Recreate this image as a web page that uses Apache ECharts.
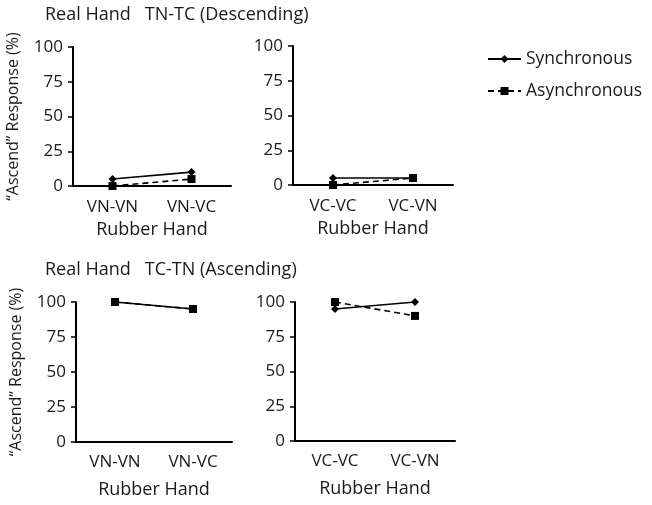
<!DOCTYPE html>
<html><head><meta charset="utf-8">
<script src="https://cdn.jsdelivr.net/npm/echarts@6/dist/echarts.min.js"></script>
<style>html,body{margin:0;padding:0;background:#fff}#c{width:652px;height:505px}</style>
</head><body><div id="c"></div>
<script>
const catsLeft = ['VN-VN', 'VN-VC'];
const catsRight = ['VC-VC', 'VC-VN'];
const yTicks = [0, 25, 50, 75, 100];
const topLeftSync = [5, 10];
const topLeftAsync = [0, 5];
const topRightSync = [5, 5];
const topRightAsync = [0, 5];
const botLeftSync = [100, 95];
const botLeftAsync = [100, 95];
const botRightSync = [95, 100];
const botRightAsync = [100, 90];
const titleTop = 'Real Hand   TN-TC (Descending)';
const titleBot = 'Real Hand   TC-TN (Ascending)';
const xName = 'Rubber Hand';
const yName = '\u201CAscend\u201D Response (%)';

const FONT = 'Open Sans';
const TXT = '#1a1a1a';
const chart = echarts.init(document.getElementById('c'));
const grids = [
  {left: 73, top: 47, width: 158, height: 139},
  {left: 293, top: 46, width: 160, height: 139},
  {left: 76, top: 302, width: 156, height: 140},
  {left: 295, top: 302, width: 160, height: 139}
];
const cats = [catsLeft, catsRight, catsLeft, catsRight];
const xAxes = cats.map((c, i) => ({
  type: 'category', gridIndex: i, data: c, boundaryGap: true,
  axisLine: {lineStyle: {color: '#000', width: 2}},
  axisTick: {show: false},
  axisLabel: {color: TXT, fontFamily: FONT, fontSize: 17, margin: i < 2 ? 13 : 12},
  name: xName, nameLocation: 'middle', nameGap: i < 2 ? 35 : 39,
  nameTextStyle: {color: TXT, fontFamily: FONT, fontSize: 18}
}));
const yAxes = grids.map((g, i) => ({
  type: 'value', gridIndex: i, min: 0, max: 100, interval: 25,
  axisLine: {show: true, lineStyle: {color: '#000', width: 2}},
  axisTick: {show: true, length: 5, lineStyle: {color: '#000', width: 1.5}},
  splitLine: {show: false},
  axisLabel: {color: TXT, fontFamily: FONT, fontSize: 17, margin: 10},
  name: (i % 2 === 0) ? yName : '', nameLocation: 'middle', nameGap: 52, nameRotate: 90,
  nameTextStyle: {color: TXT, fontFamily: FONT, fontSize: 16}
}));
function sync(idx, data) {
  return {name: 'Synchronous', type: 'line', xAxisIndex: idx, yAxisIndex: idx, data: data,
    symbol: 'diamond', symbolSize: 8, itemStyle: {color: '#000'},
    lineStyle: {color: '#000', width: 1.6, type: 'solid'}, z: 3};
}
function asyn(idx, data) {
  return {name: 'Asynchronous', type: 'line', xAxisIndex: idx, yAxisIndex: idx, data: data,
    symbol: 'rect', symbolSize: 8, itemStyle: {color: '#000'},
    lineStyle: {color: '#000', width: 1.6, type: [6, 4]}, z: 4};
}
chart.setOption({
  animation: false,
  textStyle: {fontFamily: FONT},
  title: [
    {text: titleTop, left: 40, top: 1, textStyle: {fontFamily: FONT, fontSize: 18, fontWeight: 'normal', color: TXT}},
    {text: titleBot, left: 40, top: 256, textStyle: {fontFamily: FONT, fontSize: 18, fontWeight: 'normal', color: TXT}}
  ],
  legend: {
    orient: 'vertical', left: 482, top: 45, itemWidth: 33, itemHeight: 10, itemGap: 14,
    data: ['Synchronous', 'Asynchronous'],
    textStyle: {fontFamily: FONT, fontSize: 17.5, color: TXT}
  },
  grid: grids,
  xAxis: xAxes,
  yAxis: yAxes,
  series: [
    sync(0, topLeftSync), asyn(0, topLeftAsync),
    sync(1, topRightSync), asyn(1, topRightAsync),
    sync(2, botLeftSync), asyn(2, botLeftAsync),
    sync(3, botRightSync), asyn(3, botRightAsync)
  ]
});
</script></body></html>
